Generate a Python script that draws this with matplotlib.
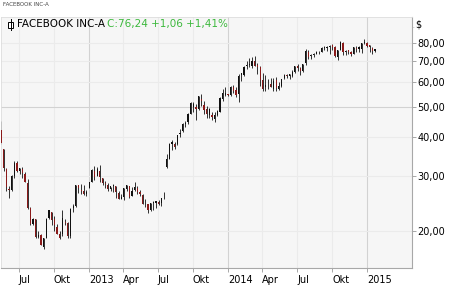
import numpy as np
import pandas as pd
import matplotlib
matplotlib.use("Agg")
import matplotlib.pyplot as plt
import matplotlib.dates as mdates
from matplotlib.ticker import FixedLocator, FuncFormatter, NullFormatter
from matplotlib.patches import Rectangle
from matplotlib.lines import Line2D

# weekly candles, week ending Fridays from 2012-05-18 to 2015-01-20
first_week = "2012-05-18"
opens = [42.05, 36.5, 31.5, 27.2, 27.0, 30.0, 33.0, 31.2, 31.6, 30.5, 28.5, 23.6, 21.0, 21.8, 19.1, 19.4,
         17.8, 19.0, 22.0, 23.0, 21.8, 20.5, 19.6, 19.5, 21.2, 21.2, 19.2, 23.7, 24.0, 28.0, 27.0, 26.9, 26.3,
         27.4, 28.7, 31.0, 30.0, 31.0, 29.5, 28.5, 28.0, 27.2, 27.8, 27.9, 26.5, 25.3, 25.6, 27.3, 27.9, 25.9,
         27.0, 27.4, 26.6, 26.0, 24.3, 24.3, 23.3, 24.5, 24.6, 24.8, 24.5, 25.8, 32.0, 34.0, 38.0, 38.0, 38.0,
         40.9, 41.8, 44.0, 44.6, 47.5, 50.0, 50.0, 49.0, 53.0, 50.5, 49.0, 47.0, 47.0, 45.8, 46.9, 48.1, 53.0, 54.5,
         54.9, 54.4, 57.9, 56.5, 54.7, 63.0, 63.0, 67.6, 68.0, 67.5, 70.0, 68.0, 67.0, 61.0, 57.6, 59.0, 59.0,
         56.8, 61.0, 57.0, 58.4, 61.7, 63.2, 62.5, 62.7, 64.4, 67.6, 66.3, 65.0, 68.8, 75.1, 72.5, 73.0, 74.0,
         74.9, 75.0, 77.3, 77.2, 77.7, 79.0, 77.5, 72.0, 76.0, 80.0, 75.0, 75.7, 74.9, 74.0, 77.3, 76.5, 76.4, 80.0,
         80.0, 78.6, 77.2, 75.6]
highs = [45.0, 36.7, 31.7, 27.8, 30.2, 33.4, 33.4, 31.9, 32.0, 30.8, 29.4, 23.9, 22.0, 21.9, 20.0, 19.5,
         18.9, 22.0, 23.4, 23.0, 22.3, 21.0, 20.0, 23.3, 21.8, 21.4, 23.6, 24.4, 28.0, 28.0, 28.2, 28.0, 27.1,
         28.7, 31.5, 32.2, 32.0, 32.5, 29.5, 28.8, 28.5, 27.6, 28.3, 27.9, 26.8, 26.3, 27.4, 28.0, 27.9, 27.6,
         28.7, 27.8, 27.0, 26.3, 25.3, 24.3, 24.5, 24.9, 25.0, 25.1, 25.5, 26.6, 35.2, 38.3, 39.0, 38.6, 40.6,
         42.3, 44.2, 45.0, 47.6, 51.6, 51.6, 51.0, 54.0, 54.8, 52.0, 50.3, 49.6, 47.9, 48.2, 48.9, 53.5, 57.0, 58.0,
         55.0, 58.4, 58.6, 57.6, 63.4, 64.1, 67.7, 69.9, 71.4, 71.9, 72.6, 68.8, 67.4, 63.9, 63.2, 61.4, 62.0,
         62.0, 62.3, 60.0, 61.5, 63.8, 63.8, 63.6, 65.4, 67.7, 68.4, 66.9, 68.6, 76.7, 75.7, 73.7, 74.2, 75.3,
         75.3, 77.8, 78.0, 78.5, 79.0, 79.6, 78.0, 76.0, 81.2, 80.5, 75.7, 76.1, 75.2, 77.8, 78.0, 78.2, 80.0, 82.2,
         80.3, 78.8, 77.4, 76.3]
lows = [38.0, 31.0, 26.8, 25.5, 26.8, 29.5, 30.8, 30.5, 29.6, 28.6, 23.5, 20.8, 20.9, 19.0, 19.0, 18.0,
        17.55, 18.9, 21.9, 20.9, 20.0, 19.5, 18.8, 19.3, 20.8, 19.0, 18.9, 23.0, 23.9, 26.4, 26.3, 26.0, 25.8,
        27.4, 28.6, 29.0, 30.0, 28.6, 28.0, 27.4, 26.9, 26.8, 26.7, 25.5, 25.3, 25.2, 25.1, 26.8, 25.5, 25.8,
        26.8, 26.3, 25.8, 24.3, 23.8, 22.8, 23.2, 23.4, 23.6, 24.2, 24.1, 25.3, 31.7, 34.0, 36.3, 36.5, 37.6,
        40.0, 41.4, 43.0, 44.0, 47.3, 48.0, 45.3, 48.7, 50.2, 47.3, 46.0, 46.1, 45.3, 44.8, 46.7, 47.9, 52.0, 54.0,
        53.9, 54.0, 55.3, 53.7, 51.9, 60.4, 62.8, 66.0, 67.0, 66.6, 67.5, 63.6, 58.4, 56.3, 56.3, 57.0, 57.8,
        56.1, 56.0, 56.6, 58.0, 61.5, 61.9, 61.4, 62.4, 64.1, 65.0, 63.0, 64.6, 68.2, 71.0, 71.2, 72.0, 73.8,
        73.5, 74.9, 76.1, 75.6, 74.0, 76.0, 72.0, 70.3, 75.8, 73.0, 73.2, 73.8, 72.9, 74.0, 74.9, 74.6, 74.1, 79.6,
        77.4, 74.7, 73.5, 75.0]
closes = [38.23, 31.91, 27.72, 27.10, 30.01, 33.05, 31.10, 31.73, 30.72, 28.76, 23.70, 21.09, 21.81, 19.05,
          19.41, 18.06, 18.98, 21.87, 23.29, 21.66, 20.91, 19.52, 19.00, 21.94, 21.18, 19.21, 23.56, 24.00,
          28.00, 27.49, 26.81, 26.26, 26.62,
          28.76, 31.30, 29.66, 31.54, 29.73, 28.55, 28.32, 27.13, 27.78, 27.96, 26.65, 25.21, 25.58, 27.39,
          28.02, 25.73, 26.85, 27.57, 26.68, 26.25, 24.31, 24.35, 23.29, 24.50, 24.53, 24.88, 24.37, 25.48,
          25.88, 34.01, 38.05, 38.50, 37.08, 40.55, 41.29, 43.95, 44.31, 47.49, 51.24, 51.04, 49.11, 54.22,
          51.95, 48.75, 47.53, 49.01, 46.23, 47.01, 48.34, 53.32, 55.12, 55.44,
          54.56, 57.94, 56.30, 54.45, 62.57, 64.32, 67.09, 68.06, 68.46, 69.80, 67.72, 67.24, 60.97, 56.75,
          58.53, 58.94, 57.71, 60.46, 57.24, 58.02, 61.35, 63.30, 62.50, 63.50, 64.50, 67.60, 66.29, 64.97,
          68.42, 75.19, 72.36, 73.06, 73.63, 74.57, 74.82, 77.03, 77.48, 77.91, 78.08, 77.44, 72.91, 75.95,
          80.42, 74.99, 75.60, 74.88, 73.75, 77.70, 76.52, 77.73, 79.88, 80.78,
          78.45, 77.74, 75.18, 76.24]

y_ticks = [20, 30, 40, 50, 60, 70, 80]
x_ticks = ["2012-07-01", "2012-10-01", "2013-01-01", "2013-04-01", "2013-07-01", "2013-10-01",
           "2014-01-01", "2014-04-01", "2014-07-01", "2014-10-01", "2015-01-01"]
x_labels = ["Jul", "Okt", "2013", "Apr", "Jul", "Okt", "2014", "Apr", "Jul", "Okt", "2015"]

o = np.array(opens)
h = np.array(highs)
l = np.array(lows)
c = np.array(closes)
dates = pd.date_range(first_week, periods=len(c), freq="W-FRI") - pd.Timedelta(days=2)
x = mdates.date2num(dates)
up = c >= o

fig = plt.figure(figsize=(4.5, 2.86), dpi=100)
W, H = 450, 286
ax = fig.add_axes([1 / W, 1 - 268 / H, 411 / W, 251 / H])
ax.set_facecolor("#f6f6f6")

# grid
for d in x_ticks:
    major = d.endswith("01-01")
    ax.axvline(mdates.datestr2num(d), color="#d2d2d2" if major else "#ebebeb", lw=0.8, zorder=0)
for v in y_ticks:
    ax.axhline(v, color="#d2d2d2" if v == 50 else "#ebebeb", lw=0.8, zorder=0)

# candles
ax.vlines(x, l, h, color="#111111", lw=0.6, zorder=2)
body_bottom = np.minimum(o, c)
body_h = np.maximum(np.abs(c - o), 0.15)
ax.bar(x[up], body_h[up], bottom=body_bottom[up], width=3.2, color="#111111", lw=0, zorder=3)
ax.bar(x[~up], body_h[~up], bottom=body_bottom[~up], width=3.2, color="#8b1a1a", lw=0, zorder=3)

ax.set_yscale("log")
ax.set_ylim(15.2, 96.9)
ax.set_xlim(mdates.datestr2num("2012-05-16"), mdates.datestr2num("2015-04-28"))

ax.yaxis.tick_right()
ax.yaxis.set_major_locator(FixedLocator(y_ticks))
ax.yaxis.set_major_formatter(FuncFormatter(lambda v, p: f"{v:.2f}".replace(".", ",")))
ax.yaxis.set_minor_formatter(NullFormatter())
ax.tick_params(axis="y", which="major", length=3, width=0.6, color="#999999", labelsize=7, pad=1)
ax.tick_params(axis="y", which="minor", length=1.5, width=0.4, color="#bbbbbb")

ax.set_xticks([mdates.datestr2num(d) for d in x_ticks])
ax.set_xticklabels(x_labels, ha="left")
ax.tick_params(axis="x", length=3, width=0.6, color="#999999", labelsize=7, pad=2)

for s in ["left", "top"]:
    ax.spines[s].set_color("#dddddd")
    ax.spines[s].set_linewidth(0.6)
for s in ["right", "bottom"]:
    ax.spines[s].set_color("#a8a8a8")
    ax.spines[s].set_linewidth(0.8)

ax.text(1.008, 0.972, "$", transform=ax.transAxes, fontsize=7, va="center", ha="left")

# header texts
fig.text(3 / W, 1 - 5 / H, "FACEBOOK INC-A", fontsize=4, color="#444444", va="center")
fig.text(17 / W, 1 - 24 / H, "FACEBOOK INC-A", fontsize=7.5, color="black", va="center")
fig.text(107 / W, 1 - 24 / H, "C:76,24 +1,06 +1,41%", fontsize=7.5, color="#3cb83c", va="center")

# small candle icon
fig.add_artist(Line2D([10.5 / W, 10.5 / W], [1 - 19 / H, 1 - 30 / H], color="black", lw=0.7))
fig.add_artist(Rectangle((8 / W, 1 - 28 / H), 5 / W, 6 / H, facecolor="white",
                         edgecolor="black", lw=0.7))

fig.savefig("out.png", dpi=100)
